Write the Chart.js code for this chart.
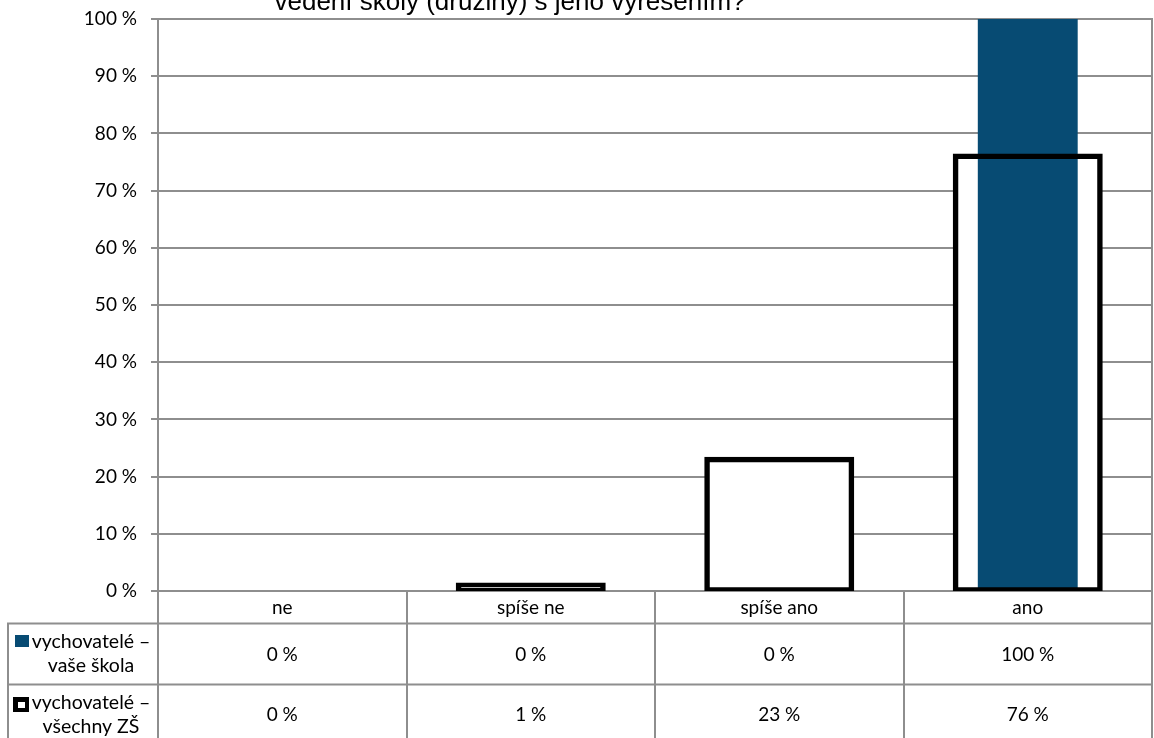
<!DOCTYPE html>
<html>
<head>
<meta charset="utf-8">
<script src="https://cdn.jsdelivr.net/npm/chart.js@4/dist/chart.umd.min.js"></script>
<style>
  html, body { margin: 0; padding: 0; background: #fff; }
  canvas { display: block; }
</style>
</head>
<body>
<canvas id="c" width="1154" height="738"></canvas>
<script>
const titleText = 'vedení školy (družiny) s jeho vyřešením?';
const categories = ['ne', 'spíše ne', 'spíše ano', 'ano'];
const seriesSchool = [0, 0, 0, 100];
const seriesAll = [0, 1, 23, 76];
const seriesSchoolLabel = ['vychovatelé –', 'vaše škola'];
const seriesAllLabel = ['vychovatelé –', 'všechny ZŠ'];
const yTickValues = [0, 10, 20, 30, 40, 50, 60, 70, 80, 90, 100];

const BLUE = '#074B73';
const GRID = '#8e8e8e';
const FONT = 'Lato, "Open Sans", sans-serif';

const tablePlugin = {
  id: 'tablePlugin',
  afterDraw(chart) {
    const ctx = chart.ctx;
    const x = chart.scales.x;
    const area = chart.chartArea;
    const bottom = 738;
    const row1Top = 623.5, row2Top = 684.5;
    ctx.save();
    // title (partially cut at top)
    ctx.fillStyle = '#000';
    ctx.font = '26px "Liberation Sans", Arial, sans-serif';
    ctx.textAlign = 'center';
    ctx.textBaseline = 'alphabetic';
    ctx.fillText(titleText, 510, 10);

    // table lines
    ctx.strokeStyle = GRID;
    ctx.lineWidth = 2;
    ctx.beginPath();
    ctx.moveTo(7, row1Top); ctx.lineTo(area.right, row1Top);
    ctx.moveTo(7, row2Top); ctx.lineTo(area.right, row2Top);
    ctx.moveTo(8, row1Top - 1); ctx.lineTo(8, bottom);
    ctx.moveTo(area.left, area.bottom); ctx.lineTo(area.left, bottom);
    for (let i = 0; i < categories.length - 1; i++) {
      const bx = Math.round((x.getPixelForValue(i) + x.getPixelForValue(i + 1)) / 2);
      ctx.moveTo(bx, area.bottom); ctx.lineTo(bx, bottom);
    }
    ctx.moveTo(area.right, area.top - 1); ctx.lineTo(area.right, bottom);
    ctx.stroke();

    // values
    ctx.fillStyle = '#000';
    ctx.font = '19px ' + FONT;
    ctx.textAlign = 'center';
    ctx.textBaseline = 'middle';
    categories.forEach((c, i) => {
      const cx = x.getPixelForValue(i);
      ctx.fillText(seriesSchool[i] + ' %', cx, 655);
      ctx.fillText(seriesAll[i] + ' %', cx, 715);
    });

    // legend labels
    ctx.font = '19.5px ' + FONT;
    ctx.fillText(seriesSchoolLabel[0], 91, 642);
    ctx.fillText(seriesSchoolLabel[1], 91, 666);
    ctx.fillText(seriesAllLabel[0], 91, 703);
    ctx.fillText(seriesAllLabel[1], 91, 727);

    // legend markers
    ctx.fillStyle = BLUE;
    ctx.fillRect(15, 635, 14, 12);
    ctx.fillStyle = '#000';
    ctx.fillRect(13, 697, 16, 15);
    ctx.fillStyle = '#fff';
    ctx.fillRect(18, 702, 7, 6);
    ctx.restore();
  }
};

new Chart(document.getElementById('c'), {
  type: 'bar',
  data: {
    labels: categories,
    datasets: [
      {
        label: 'fill',
        data: seriesAll,
        backgroundColor: '#ffffff',
        borderWidth: 0,
        inflateAmount: 0,
        grouped: false,
        barPercentage: 0.5835,
        categoryPercentage: 1,
        order: 3
      },
      {
        label: 'vychovatelé – vaše škola',
        data: seriesSchool,
        backgroundColor: BLUE,
        borderWidth: 0,
        inflateAmount: 0,
        grouped: false,
        barPercentage: 0.402,
        categoryPercentage: 1,
        order: 2
      },
      {
        label: 'vychovatelé – všechny ZŠ',
        data: seriesAll,
        backgroundColor: 'rgba(0,0,0,0)',
        borderColor: '#000',
        borderWidth: 0.01,
        borderSkipped: false,
        inflateAmount: 2.75,
        grouped: false,
        barPercentage: 0.5815,
        categoryPercentage: 1,
        order: 1
      }
    ]
  },
  options: {
    responsive: false,
    animation: false,
    devicePixelRatio: 1,
    layout: { padding: { top: 19, right: 2, left: 0, bottom: 0 } },
    plugins: {
      legend: { display: false },
      title: { display: false },
      tooltip: { enabled: false }
    },
    scales: {
      x: {
        offset: true,
        grid: { display: false, drawTicks: false },
        border: { display: true, color: GRID, width: 2 },
        ticks: { color: '#000', font: { family: FONT, size: 19 }, padding: 5, maxRotation: 0 },
        afterFit: (s) => { s.height = 147; s.paddingLeft = 0; s.paddingRight = 0; }
      },
      y: {
        min: 0,
        max: 100,
        afterBuildTicks: (s) => { s.ticks = yTickValues.map(v => ({ value: v })); },
        ticks: {
          color: '#000',
          font: { family: FONT, size: 19 },
          padding: 14,
          callback: (v) => v + ' %'
        },
        grid: { color: GRID, lineWidth: 2, tickLength: 7, tickColor: GRID },
        border: { display: true, color: GRID, width: 2 },
        afterFit: (s) => { s.width = 158; s.paddingTop = 0; s.paddingBottom = 0; }
      }
    }
  },
  plugins: [tablePlugin]
});
</script>
</body>
</html>
